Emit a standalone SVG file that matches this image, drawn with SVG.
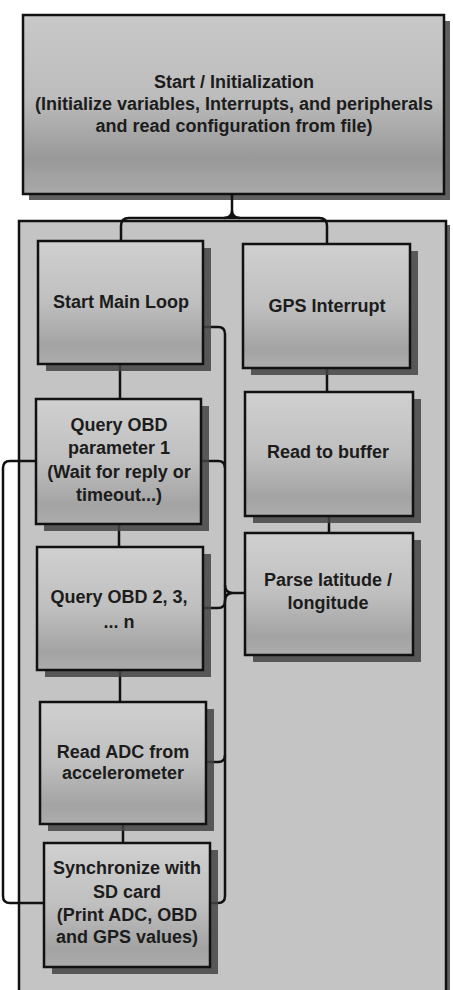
<svg xmlns="http://www.w3.org/2000/svg" width="453" height="990" viewBox="0 0 453 990">
<defs>
<linearGradient id="boxg" x1="0" y1="0" x2="0" y2="1">
<stop offset="0" stop-color="#d0d0d0"/>
<stop offset="0.5" stop-color="#bfbfbf"/>
<stop offset="0.85" stop-color="#a3a3a3"/>
<stop offset="1" stop-color="#acacac"/>
</linearGradient>
<linearGradient id="topg" x1="0" y1="0" x2="0" y2="1">
<stop offset="0" stop-color="#c8c8c8"/>
<stop offset="0.45" stop-color="#bdbdbd"/>
<stop offset="0.8" stop-color="#999999"/>
<stop offset="1" stop-color="#a9a9a9"/>
</linearGradient>
<style>
.box{stroke:#111;stroke-width:2.5;fill:url(#boxg)}
.top{stroke:#111;stroke-width:2.5;fill:url(#topg)}
.sh{fill:#444444;opacity:0.85}
.t{font-family:"Liberation Sans",Arial,sans-serif;font-weight:bold;font-size:18px;fill:#1c1c1c;text-anchor:middle}
.c{fill:none;stroke:#111;stroke-width:2.5;stroke-linejoin:round}
</style>
</defs>
<rect width="453" height="990" fill="#ffffff"/>

<g id="container">
<rect x="23" y="225" width="427" height="780" class="sh"/>
<rect x="19" y="221" width="427" height="780" fill="#c4c4c4" stroke="#111" stroke-width="2.5"/>
</g>

<g id="start-init">
<rect x="29" y="21" width="421" height="179" class="sh"/>
<rect x="23" y="15" width="421" height="179" class="top"/>
<text class="t" x="234" y="88">Start / Initialization</text>
<text class="t" x="234" y="110">(Initialize variables, Interrupts, and peripherals</text>
<text class="t" x="234" y="132">and read configuration from file)</text>
</g>

<g id="connectors">
<path class="c" d="M232,194 V218 M224,218 Q232,218 232,210 M240,218 Q232,218 232,210"/>
<path class="c" d="M121,241 V226 Q121,218 129,218 H319 Q327,218 327,226 V244"/>
<path class="c" d="M120,364 V399"/>
<path class="c" d="M119,524 V547"/>
<path class="c" d="M120,670 V702"/>
<path class="c" d="M123,824 V843"/>
<path class="c" d="M327,368 V392"/>
<path class="c" d="M329,516 V533"/>
<path class="c" d="M203,327 H218 Q225,327 225,334 V896 Q225,903 218,903 H210"/>
<path class="c" d="M201,461 H218 Q225,461 225,468"/>
<path class="c" d="M245,593 H233 Q225,593 225,585 M233,593 Q225,593 225,601"/>
<path class="c" d="M203,608 H218 Q225,608 225,601"/>
<path class="c" d="M206,762 H218 Q225,762 225,755"/>
<path class="c" d="M36,461 H10 Q3,461 3,468 V896 Q3,903 10,903 H44"/>
</g>

<g id="start-main-loop">
<rect x="46" y="248" width="165" height="123" class="sh"/>
<rect x="38" y="241" width="165" height="123" class="box"/>
<text class="t" x="121" y="308">Start Main Loop</text>
</g>

<g id="gps-interrupt">
<rect x="251" y="251" width="167" height="124" class="sh"/>
<rect x="243" y="244" width="167" height="124" class="box"/>
<text class="t" x="327" y="312">GPS Interrupt</text>
</g>

<g id="query-obd-1">
<rect x="44" y="406" width="165" height="125" class="sh"/>
<rect x="36" y="399" width="165" height="125" class="box"/>
<text class="t" x="119" y="431">Query OBD</text>
<text class="t" x="119" y="454">parameter 1</text>
<text class="t" x="119" y="478">(Wait for reply or</text>
<text class="t" x="119" y="501">timeout...)</text>
</g>

<g id="read-to-buffer">
<rect x="253" y="399" width="168" height="124" class="sh"/>
<rect x="245" y="392" width="168" height="124" class="box"/>
<text class="t" x="328" y="458">Read to buffer</text>
</g>

<g id="query-obd-n">
<rect x="45" y="554" width="166" height="123" class="sh"/>
<rect x="37" y="547" width="166" height="123" class="box"/>
<text class="t" x="119" y="603">Query OBD 2, 3,</text>
<text class="t" x="119" y="628">... n</text>
</g>

<g id="parse-lat-lon">
<rect x="253" y="540" width="168" height="122" class="sh"/>
<rect x="245" y="533" width="168" height="122" class="box"/>
<text class="t" x="328" y="586">Parse latitude /</text>
<text class="t" x="328" y="609">longitude</text>
</g>

<g id="read-adc">
<rect x="48" y="709" width="166" height="122" class="sh"/>
<rect x="40" y="702" width="166" height="122" class="box"/>
<text class="t" x="123" y="758">Read ADC from</text>
<text class="t" x="123" y="779">accelerometer</text>
</g>

<g id="sync-sd">
<rect x="52" y="850" width="166" height="124" class="sh"/>
<rect x="44" y="843" width="166" height="124" class="box"/>
<text class="t" x="127" y="874">Synchronize with</text>
<text class="t" x="127" y="898">SD card</text>
<text class="t" x="127" y="921">(Print ADC, OBD</text>
<text class="t" x="127" y="943">and GPS values)</text>
</g>
</svg>
